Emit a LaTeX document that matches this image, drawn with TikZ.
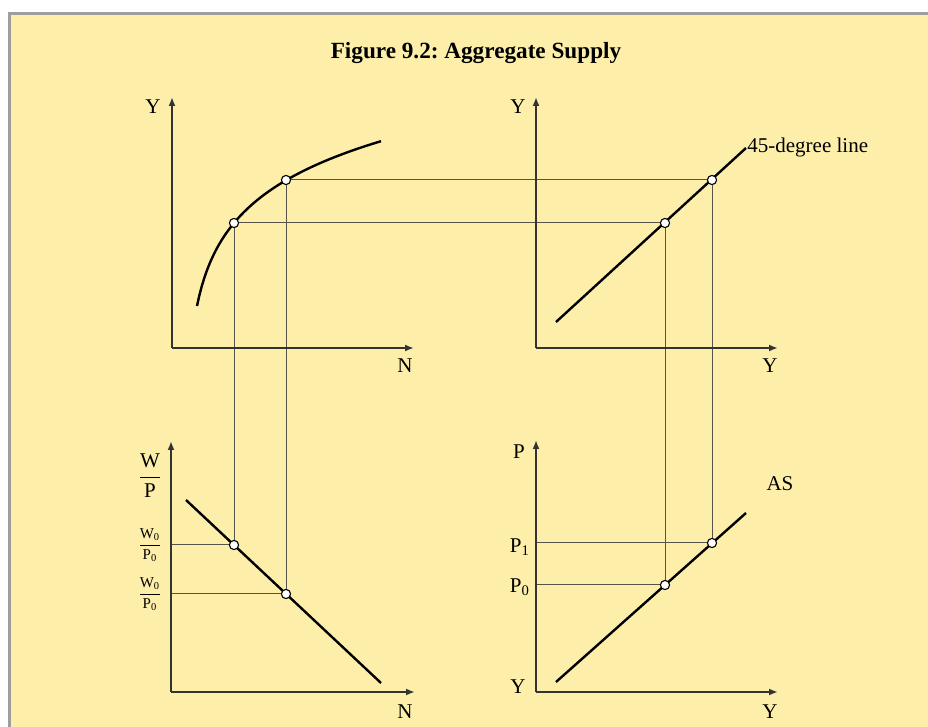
\documentclass[tikz,border=0pt]{standalone}
\usepackage{amsmath}
\usepackage{fontspec}
\setmainfont{Liberation Serif}
\usetikzlibrary{arrows.meta}
\definecolor{bgyellow}{HTML}{FDEFAA}
\definecolor{framegrey}{HTML}{9E9E9E}
\definecolor{guide}{HTML}{55534A}

\begin{document}
\frenchspacing
\begin{tikzpicture}[
    x=0.5pt, y=-0.5pt,
    axis/.style={line width=1pt, black!80, -{Latex[length=4.5pt,width=3.5pt]}},
    curve/.style={line width=1.2pt, black},
    guideline/.style={line width=0.5pt, guide},
    pt/.style={circle, draw=black, line width=0.55pt, fill=white, inner sep=0pt, minimum size=4.6pt},
    lbl/.style={inner sep=0pt, font=\fontsize{10.5}{12}\selectfont},
    small/.style={inner sep=0pt, font=\fontsize{7.5}{9}\selectfont}
]
    \useasboundingbox (0,0) rectangle (928,727);
    \fill[bgyellow] (11,15) rectangle (928,727);
    \draw[framegrey, line width=1.5pt] (9.5,727) -- (9.5,13.5) -- (928,13.5);

    \node[lbl, font=\fontsize{11.6}{14}\selectfont\bfseries] (title) at (476,53) {Figure 9.2: Aggregate Supply};

    % axis corners and tips
    \coordinate (tlO) at (172,348); \coordinate (tlY) at (172,97);  \coordinate (tlX) at (414,348);
    \coordinate (trO) at (536,348); \coordinate (trY) at (536,97);  \coordinate (trX) at (778,348);
    \coordinate (blO) at (171,692); \coordinate (blY) at (171,441); \coordinate (blX) at (415,692);
    \coordinate (brO) at (536,692); \coordinate (brY) at (536,440); \coordinate (brX) at (778,692);

    % points on the curves
    \coordinate (a) at (234,223); \coordinate (b) at (286,180);
    \coordinate (c) at (665,223); \coordinate (d) at (712,180);
    \coordinate (e) at (234,545); \coordinate (f) at (286,594);
    \coordinate (g) at (665,585); \coordinate (h) at (712,543);
    \coordinate (wA) at (171,545); \coordinate (wB) at (171,594);
    \coordinate (pA) at (536,585); \coordinate (pB) at (536,543);

    % guide lines
    \draw[guideline] (a) -- (c) -- (g) -- (pA);
    \draw[guideline] (b) -- (d) -- (h) -- (pB);
    \draw[guideline] (a) -- (e) -- (wA);
    \draw[guideline] (b) -- (f) -- (wB);

    % axes
    \draw[axis] (tlO) -- (tlY); \draw[axis] (tlO) -- (tlX);
    \draw[axis] (trO) -- (trY); \draw[axis] (trO) -- (trX);
    \draw[axis] (blO) -- (blY); \draw[axis] (blO) -- (blX);
    \draw[axis] (brO) -- (brY); \draw[axis] (brO) -- (brX);

    % curves
    \draw[curve] plot[domain=197:381, samples=80] (\x, {452.6-59*ln(\x-185)});
    \draw[curve] (556,322) -- (746,148);
    \draw[curve] (186,500) -- (381,683);
    \draw[curve] (556,682) -- (746,513);

    \foreach \p in {a,b,c,d,e,f,g,h}
        \node[pt] (n\p) at (\p) {};

    % labels
    \node[lbl] (tlYl) at (153,107) {Y};
    \node[lbl] (tlXl) at (405,366) {N};
    \node[lbl] (trYl) at (518,107) {Y};
    \node[lbl] (trXl) at (770,366) {Y};
    \node[lbl, anchor=west] (fortyfive) at (747,147) {45-degree line};
    \node[lbl] (wp) at (150,476) {$\dfrac{\text{W}}{\text{P}}$};
    \node[small] (wp1) at (150,545) {$\dfrac{\text{W}_{\text{0}}}{\text{P}_{\text{0}}}$};
    \node[small] (wp2) at (150,594) {$\dfrac{\text{W}_{\text{0}}}{\text{P}_{\text{0}}}$};
    \node[lbl] (blXl) at (405,712) {N};
    \node[lbl] (brPl) at (519,452) {P};
    \node[lbl] (p1) at (520,547) {P$_{\text{1}}$};
    \node[lbl] (p0) at (520,587) {P$_{\text{0}}$};
    \node[lbl] (brYl) at (518,687) {Y};
    \node[lbl] (brXl) at (770,712) {Y};
    \node[lbl] (as) at (780,484) {AS};
\end{tikzpicture}
\end{document}
